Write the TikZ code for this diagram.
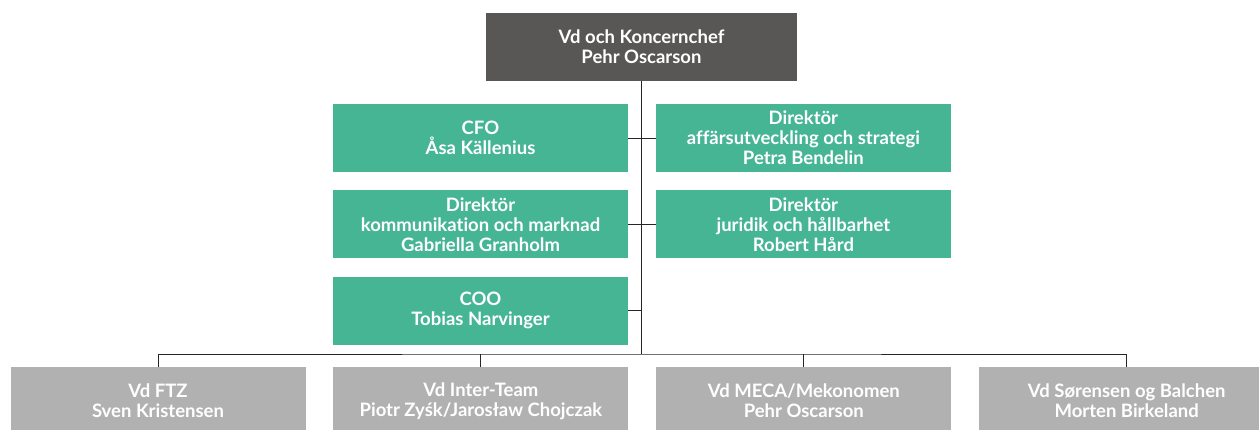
\documentclass[tikz,border=0pt]{standalone}
\usepackage{fontspec}
\setmainfont{Lato}[Ligatures=NoCommon]
\usetikzlibrary{positioning}
\definecolor{ceogray}{HTML}{585755}
\definecolor{mgmtgreen}{HTML}{46B594}
\definecolor{unitgray}{HTML}{B1B1B1}
\tikzset{
    box/.style={rectangle, text=white, align=center, inner sep=0pt, minimum width=295pt, minimum height=68pt, font=\fontsize{18.5}{20}\selectfont\bfseries},
    ceobox/.style={box, fill=ceogray, minimum width=311pt},
    greenbox/.style={box, fill=mgmtgreen},
    unitbox/.style={box, fill=unitgray},
    link/.style={line width=0.9pt, draw=black!85}
}
\begin{document}
\begin{tikzpicture}[x=1pt, y=-1pt, node distance=18pt and 27.5pt]
    \path[use as bounding box, clip] (0,0) rectangle (1259,429);
    \node[ceobox] (ceo) at (641.5,47) {Vd och Koncernchef\\Pehr Oscarson};
    \node[greenbox] (cfo) at (480.5,138) {CFO\\Åsa Källenius};
    \node[greenbox, right=of cfo] (strat) {Direktör\\affärsutveckling och strategi\\Petra Bendelin};
    \node[greenbox, below=of cfo] (komm) {Direktör\\kommunikation och marknad\\Gabriella Granholm};
    \node[greenbox, right=of komm] (jur) {Direktör\\juridik och hållbarhet\\Robert Hård};
    \node[greenbox, below=of komm] (coo) {COO\\Tobias Narvinger};
    \node[unitbox] (ftz) at (158,401) {Vd FTZ\\Sven Kristensen};
    \node[unitbox, right=of ftz] (inter) {Vd Inter-Team\\Piotr Zyśk/Jarosław Chojczak};
    \node[unitbox, right=of inter] (meca) {Vd MECA/Mekonomen\\Pehr Oscarson};
    \node[unitbox, right=of meca] (sob) {Vd Sørensen og Balchen\\Morten Birkeland};
    \coordinate (bus) at (641,354);
    % trunk and staff lines
    \draw[link] (ceo.south -| bus) -- (bus);
    \draw[link] (cfo) -- (strat);
    \draw[link] (komm) -- (jur);
    \draw[link] (coo.east) -- (coo.east -| bus);
    % line to the units
    \draw[link] (ftz) |- (bus) -| (sob);
    \draw[link] (inter) -- (inter |- bus);
    \draw[link] (meca) -- (meca |- bus);
\end{tikzpicture}
\end{document}
